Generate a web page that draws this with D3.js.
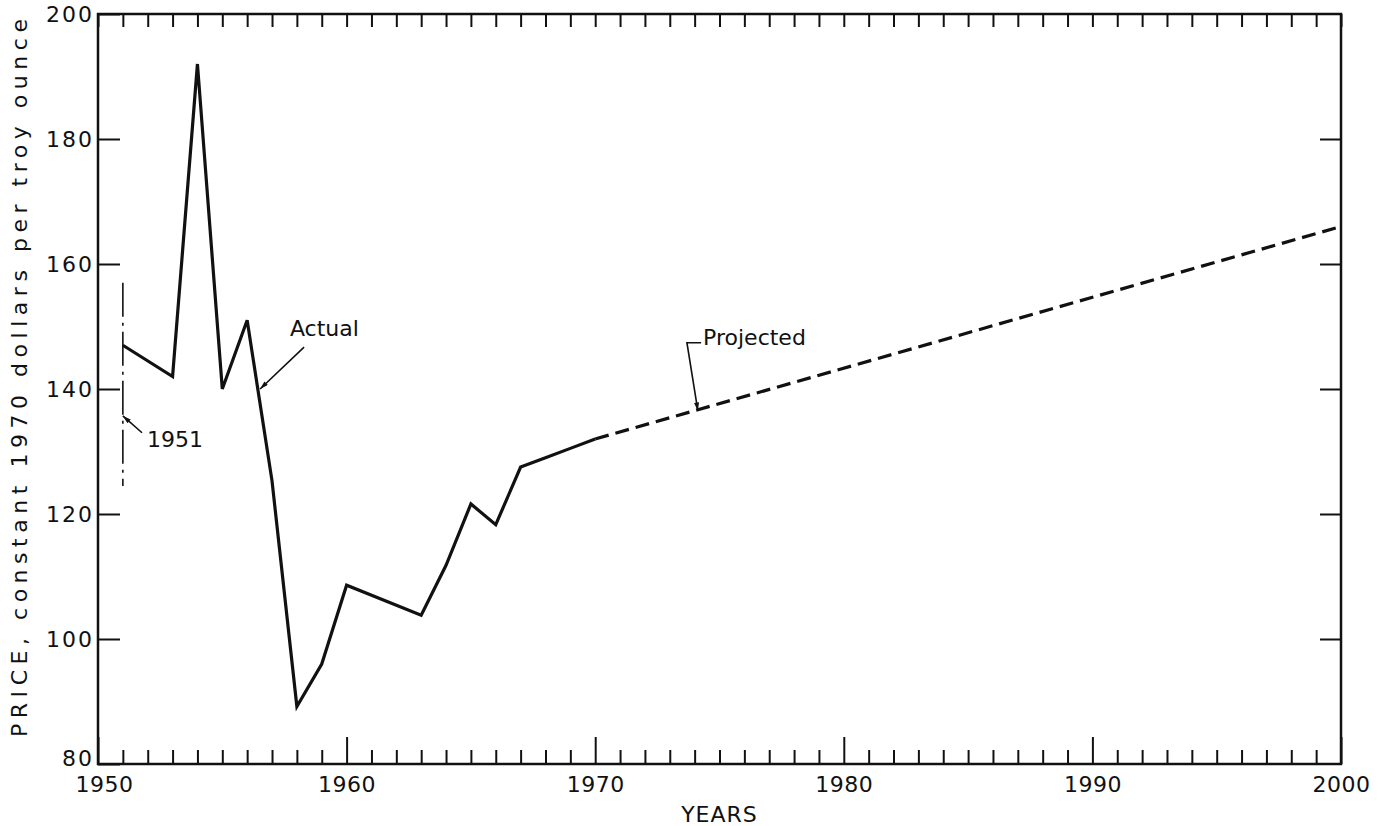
<!DOCTYPE html>
<html>
<head>
<meta charset="utf-8">
<script src="https://cdn.jsdelivr.net/npm/d3@7"></script>
<style>
  body { margin: 0; background: #fff; }
  text { font-family: "DejaVu Sans", sans-serif; fill: #111; }
</style>
</head>
<body>
<svg id="chart" width="1390" height="826"></svg>
<script>
var actualYears  = [1951, 1953, 1954, 1955, 1956, 1957, 1958, 1959, 1960, 1963, 1964, 1965, 1966, 1967, 1968, 1969, 1970];
var actualPrices = [147, 142, 192, 140, 151, 125.3, 89.2, 96, 108.6, 103.8, 111.8, 121.6, 118.3, 127.5, 129, 130.5, 132];

var projectedYears  = [1970, 2000];
var projectedPrices = [132, 166];

var decadeLabels = [1950, 1960, 1970, 1980, 1990, 2000];
var priceTicks   = [80, 100, 120, 140, 160, 180, 200];
var innerPrices  = [100, 120, 140, 160, 180];

// 1951 reference line (year, low price, high price)
var line1951 = [1951, 124.5, 157];

var notes = [
  { text: "Actual",    x: 1957.72, y: 148.5, path: [[1958.29, 146.7], [1956.52, 140.0]] },
  { text: "Projected", x: 1974.34, y: 147.0, path: [[1974.26, 147.4], [1973.69, 147.4], [1974.13, 136.5]] },
  { text: "1951",      x: 1951.97, y: 130.7, path: [[1951.77, 133.0], [1951.0, 135.7]] }
];

var svg = d3.select("#chart");

var x = d3.scaleLinear().domain([1950, 2000]).range([98, 1341]);
var y = d3.scaleLinear().domain([80, 200]).range([764, 14]);

var allYears = d3.range(1950, 2001);
var minorYears = allYears.filter(function(d) { return d % 10 != 0; });

svg.append("defs").append("marker")
  .attr("id", "arrow")
  .attr("viewBox", "0 0 10 6")
  .attr("refX", 10)
  .attr("refY", 3)
  .attr("markerUnits", "userSpaceOnUse")
  .attr("markerWidth", 9)
  .attr("markerHeight", 5)
  .attr("orient", "auto")
  .append("path")
  .attr("d", "M0,0L10,3L0,6Z")
  .attr("fill", "#111");

function clean(g) {
  g.select(".domain").remove();
  g.selectAll(".tick line").attr("stroke", "#111").attr("stroke-width", 2);
}

// bottom: minor year ticks
svg.append("g")
  .attr("transform", "translate(0," + y(80) + ")")
  .call(d3.axisBottom(x).tickValues(minorYears).tickSize(-14).tickFormat(""))
  .call(clean);

// bottom: decade ticks and labels
var xLabels = svg.append("g")
  .attr("transform", "translate(0," + y(80) + ")")
  .call(d3.axisBottom(x).tickValues(decadeLabels).tickSize(-27).tickPadding(12).tickFormat(d3.format("d")))
  .call(clean)
  .selectAll("text")
  .attr("font-size", 22)
  .attr("letter-spacing", 0.5)
  .attr("fill", "#111");
xLabels.filter(function(d) { return d == 1950; }).attr("dx", 6);

// top ticks
svg.append("g")
  .attr("transform", "translate(0," + y(200) + ")")
  .call(d3.axisTop(x).tickValues(allYears).tickSize(-13).tickFormat(""))
  .call(clean);

// left ticks and labels
var yLabels = svg.append("g")
  .attr("transform", "translate(" + x(1950) + ",0)")
  .call(d3.axisLeft(y).tickValues(priceTicks).tickSize(-22).tickPadding(4))
  .call(clean)
  .selectAll("text")
  .attr("font-size", 22)
  .attr("letter-spacing", 2)
  .attr("fill", "#111");
yLabels.filter(function(d) { return d == 80; }).attr("dy", "0.05em");

// right ticks
svg.append("g")
  .attr("transform", "translate(" + x(2000) + ",0)")
  .call(d3.axisRight(y).tickValues(innerPrices).tickSize(-21).tickFormat(""))
  .call(clean);

// frame
svg.append("rect")
  .attr("x", x(1950))
  .attr("y", y(200))
  .attr("width", x(2000) - x(1950))
  .attr("height", y(80) - y(200))
  .attr("fill", "none")
  .attr("stroke", "#111")
  .attr("stroke-width", 2.5);

// 1951 dash-dot line
svg.append("line")
  .attr("x1", x(line1951[0])).attr("x2", x(line1951[0]))
  .attr("y1", y(line1951[2])).attr("y2", y(line1951[1]))
  .attr("stroke", "#111")
  .attr("stroke-width", 1.6)
  .attr("stroke-dasharray", "34,6,3,6");

var line = d3.line()
  .x(function(d) { return x(d[0]); })
  .y(function(d) { return y(d[1]); });

svg.append("path")
  .datum(d3.zip(actualYears, actualPrices))
  .attr("d", line)
  .attr("fill", "none")
  .attr("stroke", "#111")
  .attr("stroke-width", 3.2)
  .attr("stroke-linejoin", "miter");

svg.append("path")
  .datum(d3.zip(projectedYears, projectedPrices))
  .attr("d", line)
  .attr("fill", "none")
  .attr("stroke", "#111")
  .attr("stroke-width", 3.2)
  .attr("stroke-dasharray", "14,7");

// annotations
notes.forEach(function(n) {
  svg.append("path")
    .attr("d", line(n.path))
    .attr("fill", "none")
    .attr("stroke", "#111")
    .attr("stroke-width", 1.6)
    .attr("marker-end", "url(#arrow)");

  svg.append("text")
    .attr("x", x(n.x))
    .attr("y", y(n.y))
    .attr("font-size", 22)
    .text(n.text);
});

// axis titles
svg.append("text")
  .attr("x", (x(1950) + x(2000)) / 2)
  .attr("y", 822)
  .attr("text-anchor", "middle")
  .attr("font-size", 22)
  .attr("letter-spacing", 1)
  .text("YEARS");

svg.append("text")
  .attr("transform", "translate(27,737) rotate(-90)")
  .attr("font-size", 22)
  .attr("textLength", 718)
  .attr("lengthAdjust", "spacing")
  .text("PRICE, constant 1970 dollars per troy ounce");
</script>
</body>
</html>
